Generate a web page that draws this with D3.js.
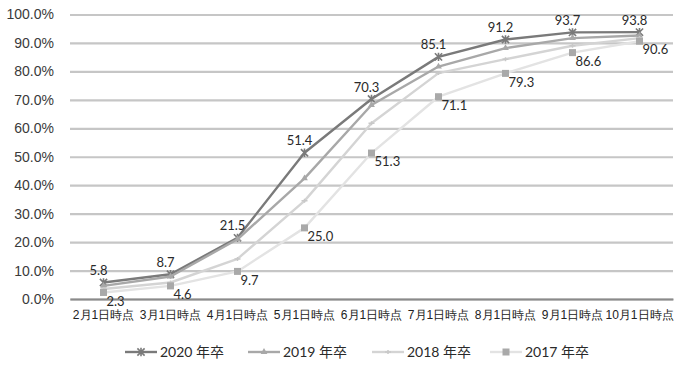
<!DOCTYPE html>
<html>
<head>
<meta charset="utf-8">
<script src="https://cdn.jsdelivr.net/npm/d3@7"></script>
<style>
  html, body { margin: 0; padding: 0; background: #fff; }
  svg { display: block; font-family: Lato, "Noto Sans CJK JP", sans-serif; }
</style>
</head>
<body>
<svg id="chart" width="678" height="365"></svg>
<script>
// Categories (survey dates) and cumulative job-offer rates per graduating year
const categories = ["2月1日時点", "3月1日時点", "4月1日時点", "5月1日時点", "6月1日時点",
                    "7月1日時点", "8月1日時点", "9月1日時点", "10月1日時点"];
const rate2020 = [5.8, 8.7, 21.5, 51.4, 70.3, 85.1, 91.2, 93.7, 93.8];
const rate2019 = [4.6, 7.9, 21.0, 42.4, 68.2, 81.7, 88.2, 91.7, 92.6];
const rate2018 = [3.5, 5.8, 14.1, 34.5, 61.8, 79.4, 84.3, 89.0, 91.7];
const rate2017 = [2.3, 4.6, 9.7, 25.0, 51.3, 71.1, 79.3, 86.6, 90.6];
const yTicks = [0, 10, 20, 30, 40, 50, 60, 70, 80, 90, 100];

const series = [
  { name: "2020 年卒", values: rate2020, line: "#7a7a7a", marker: "star",     mColor: "#7a7a7a", labels: "above" },
  { name: "2019 年卒", values: rate2019, line: "#a8a8a8", marker: "triangle", mColor: "#a8a8a8", labels: null },
  { name: "2018 年卒", values: rate2018, line: "#d4d4d4", marker: "dash",     mColor: "#c8c8c8", labels: null },
  { name: "2017 年卒", values: rate2017, line: "#e3e3e3", marker: "square",   mColor: "#a9a9a9", labels: "right" }
];

const svg = d3.select("#chart");
const plot = { left: 70, right: 673, top: 14.5, bottom: 299 };

const x = d3.scaleBand().domain(categories).range([plot.left, plot.right]);
const y = d3.scaleLinear().domain([0, 100]).range([plot.bottom, plot.top]);
const cx = c => x(c) + x.bandwidth() / 2;

// Horizontal gridlines and percentage labels
const yAxis = d3.axisLeft(y).tickValues(yTicks)
  .tickFormat(d => d.toFixed(1) + "%")
  .tickSize(-(plot.right - plot.left)).tickPadding(16);
const gy = svg.append("g").attr("transform", `translate(${plot.left},0)`).call(yAxis);
gy.select(".domain").remove();
gy.selectAll(".tick line").attr("stroke", "#c6c6c6").attr("stroke-width", 2.2);
gy.selectAll(".tick text").attr("fill", "#3a3a3a").style("font-size", "14px");

// Category axis along the baseline
const xAxis = d3.axisBottom(x).tickSize(0).tickPadding(11);
const gx = svg.append("g").attr("transform", `translate(0,${plot.bottom})`).call(xAxis);
gx.select(".domain").attr("stroke", "#8a8a8a").attr("stroke-width", 2.2);
gx.selectAll(".tick text").attr("fill", "#222").style("font-size", "12px");

const lineGen = d3.line().x((d, i) => cx(categories[i])).y(d => y(d));

function drawMarker(g, type, color, px, py) {
  if (type === "star") {
    const s = 3.6;
    g.append("path")
      .attr("d", `M${px - s},${py - s}L${px + s},${py + s}M${px - s},${py + s}L${px + s},${py - s}M${px},${py - s - 0.6}L${px},${py + s + 0.6}`)
      .attr("stroke", color).attr("stroke-width", 1.6).attr("fill", "none");
  } else if (type === "triangle") {
    g.append("path")
      .attr("d", d3.symbol().type(d3.symbolTriangle).size(20)())
      .attr("transform", `translate(${px},${py})`).attr("fill", color);
  } else if (type === "dash") {
    g.append("path")
      .attr("d", `M${px - 3},${py}L${px + 3},${py}M${px},${py - 2}L${px},${py + 2}`)
      .attr("stroke", color).attr("stroke-width", 1.5);
  } else if (type === "square") {
    g.append("rect").attr("x", px - 3.5).attr("y", py - 3.5)
      .attr("width", 7).attr("height", 7).attr("fill", color);
  }
}

series.forEach(s => {
  const g = svg.append("g");
  g.append("path").datum(s.values)
    .attr("d", lineGen).attr("fill", "none")
    .attr("stroke", s.line).attr("stroke-width", 2.4)
    .attr("stroke-linejoin", "round");
  s.values.forEach((v, i) => drawMarker(g, s.marker, s.mColor, cx(categories[i]), y(v)));
});

// Value labels for 2020 (above) and 2017 (lower right)
series.filter(s => s.labels).forEach(s => {
  const g = svg.append("g").style("font-size", "13px").attr("fill", "#2a2a2a");
  s.values.forEach((v, i) => {
    const px = cx(categories[i]), py = y(v);
    if (s.labels === "above") {
      g.append("text").attr("x", px - 5).attr("y", py - 12)
        .attr("text-anchor", "middle").attr("dy", "0.35em").text(v.toFixed(1));
    } else {
      g.append("text").attr("x", px + 3).attr("y", py + 9)
        .attr("text-anchor", "start").attr("dy", "0.32em").text(v.toFixed(1));
    }
  });
});

// Legend
const legendX = [125, 248, 372, 490];
const legend = svg.append("g").attr("transform", "translate(0,352)");
series.forEach((s, i) => {
  const lg = legend.append("g").attr("transform", `translate(${legendX[i]},0)`);
  lg.append("line").attr("x1", 0).attr("x2", 32).attr("y1", 0).attr("y2", 0)
    .attr("stroke", s.line).attr("stroke-width", 2.4);
  drawMarker(lg, s.marker, s.mColor, 16, 0);
  lg.append("text").attr("x", 35).attr("y", 0).attr("dy", "0.35em")
    .style("font-size", "14px").attr("fill", "#2a2a2a").text(s.name);
});
</script>
</body>
</html>
